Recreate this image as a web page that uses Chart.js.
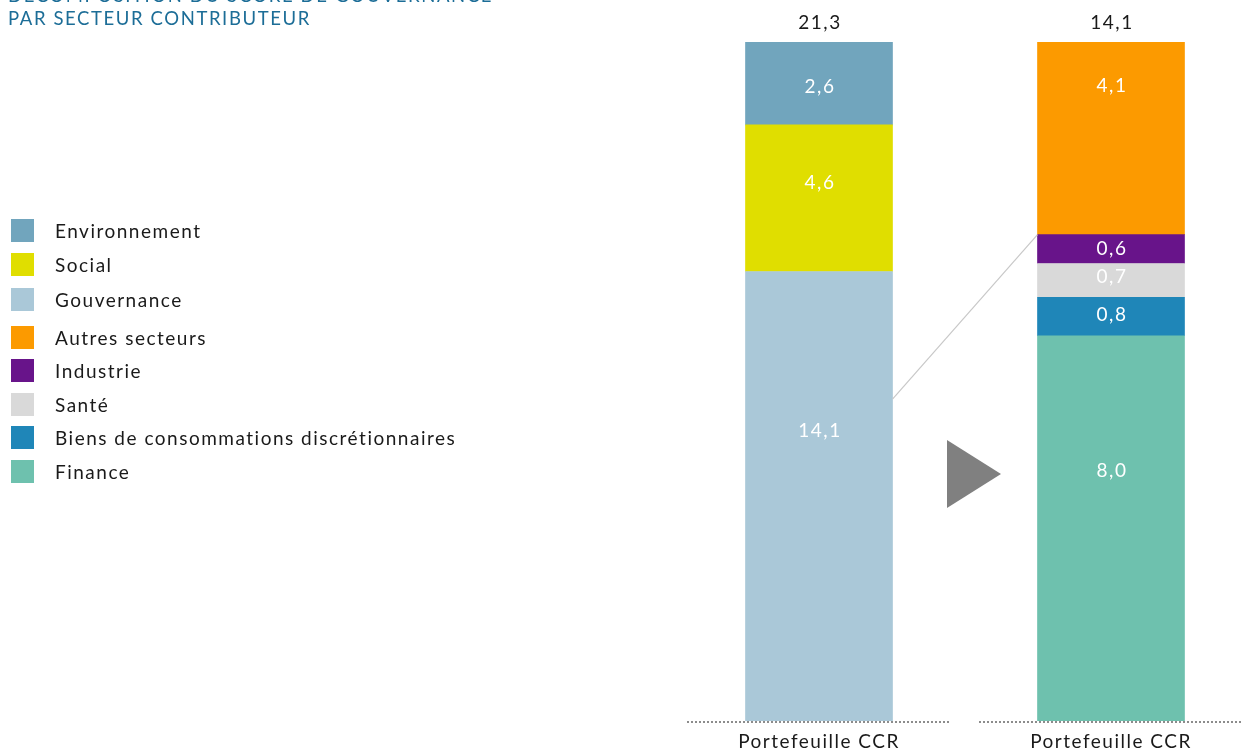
<!DOCTYPE html>
<html lang="fr">
<head>
<meta charset="utf-8">
<script src="https://cdn.jsdelivr.net/npm/chart.js@4.4.1/dist/chart.umd.min.js"></script>
<style>
  html, body { margin: 0; padding: 0; width: 1253px; height: 752px; overflow: hidden; background: #fff; }
  #wrap { position: relative; width: 1253px; height: 752px; overflow: hidden; }
  canvas { position: absolute; left: 0; top: 0; }
  .title { position: absolute; left: 8px; top: -16px; font-family: Lato, "Noto Sans", sans-serif; font-size: 18.5px; letter-spacing: 1.6px; line-height: 23px; color: #1c6d97; white-space: nowrap; }
  #legend { position: absolute; left: 11px; top: 0; font-family: Lato, "Noto Sans", sans-serif; font-size: 19px; letter-spacing: 1.5px; color: #1a1a1a; }
  .item { position: absolute; left: 0; white-space: nowrap; height: 23px; }
  .sw { position: absolute; left: 0; top: 0; width: 23px; height: 23px; }
  .lb { position: absolute; left: 44px; top: 0; line-height: 23px; }
</style>
</head>
<body>
<div id="wrap">
  <canvas id="c" width="1270" height="752"></canvas>
  <div class="title">DÉCOMPOSITION DU SCORE DE GOUVERNANCE<br>PAR SECTEUR CONTRIBUTEUR</div>
  <div id="legend"></div>
</div>
<script>
// ---- data ----
const categories = ['Portefeuille CCR', 'Portefeuille CCR'];
const totals = [21.3, 14.1];
const pillarLabels = ['Gouvernance', 'Social', 'Environnement'];
const pillarValues = [14.1, 4.6, 2.6];
const sectorLabels = ['Finance', 'Biens de consommations discrétionnaires', 'Santé', 'Industrie', 'Autres secteurs'];
const sectorValues = [8.0, 0.8, 0.7, 0.6, 4.1];
const legendOrder = ['Environnement', 'Social', 'Gouvernance', 'Autres secteurs', 'Industrie', 'Santé', 'Biens de consommations discrétionnaires', 'Finance'];

// ---- styles ----
const colors = {
  'Environnement': '#71a5bd',
  'Social': '#e0de00',
  'Gouvernance': '#aac8d8',
  'Autres secteurs': '#fc9a00',
  'Industrie': '#68148a',
  'Santé': '#d9d9d9',
  'Biens de consommations discrétionnaires': '#1f86b8',
  'Finance': '#6ec1ae'
};
// vertical nudge of in-bar labels (px from visible segment centre)
const labelNudge = {
  'Environnement': 3, 'Social': -15, 'Gouvernance': -65,
  'Autres secteurs': -52, 'Industrie': 0, 'Santé': -3,
  'Biens de consommations discrétionnaires': -2, 'Finance': -58
};
const legendTops = [219, 253, 288, 326, 359, 393, 426, 460];
const FONT = 'Lato, "Noto Sans", sans-serif';
const SPACING = '1.5px';

// legend (HTML)
const legendEl = document.getElementById('legend');
legendOrder.forEach((name, i) => {
  const it = document.createElement('div');
  it.className = 'item';
  it.style.top = legendTops[i] + 'px';
  const sw = document.createElement('div');
  sw.className = 'sw';
  sw.style.background = colors[name];
  const lb = document.createElement('div');
  lb.className = 'lb';
  lb.textContent = name;
  it.appendChild(sw); it.appendChild(lb);
  legendEl.appendChild(it);
});

const fmt = v => v.toFixed(1).replace('.', ',');

const datasets = [];
pillarLabels.forEach((name, i) => datasets.push({
  label: name, data: [pillarValues[i], null], backgroundColor: colors[name],
  yAxisID: 'y', stack: 's'
}));
sectorLabels.forEach((name, i) => datasets.push({
  label: name, data: [null, sectorValues[i]], backgroundColor: colors[name],
  yAxisID: 'y2', stack: 's'
}));

const spacingPlugin = {
  id: 'spacing',
  beforeDraw(chart) { chart.ctx.letterSpacing = SPACING; }
};

const decor = {
  id: 'decor',
  afterDatasetsDraw(chart) {
    const ctx = chart.ctx;
    const x = chart.scales.x, y = chart.scales.y, y2 = chart.scales.y2;
    const area = chart.chartArea;
    ctx.save();
    ctx.letterSpacing = SPACING;
    // dotted baselines per category
    ctx.strokeStyle = '#8c8c8c';
    ctx.lineWidth = 2;
    ctx.setLineDash([2, 2]);
    categories.forEach((c, i) => {
      const cx = x.getPixelForValue(i);
      ctx.beginPath();
      ctx.moveTo(cx - 132, area.bottom + 1);
      ctx.lineTo(cx + 132, area.bottom + 1);
      ctx.stroke();
    });
    ctx.setLineDash([]);

    // segment labels
    ctx.textAlign = 'center';
    ctx.textBaseline = 'middle';
    ctx.font = '19px ' + FONT;
    chart.data.datasets.forEach((ds, di) => {
      const meta = chart.getDatasetMeta(di);
      meta.data.forEach((bar, idx) => {
        const v = ds.data[idx];
        if (v == null) return;
        const top = Math.max(area.top, Math.min(bar.y, bar.base)), bot = Math.max(bar.y, bar.base);
        ctx.fillStyle = '#ffffff';
        ctx.fillText(fmt(v), bar.x + 1, (top + bot) / 2 + (labelNudge[ds.label] || 0));
      });
    });

    // totals
    ctx.fillStyle = '#1a1a1a';
    totals.forEach((t, i) => {
      ctx.fillText(fmt(t), x.getPixelForValue(i) + 1, area.top - 19);
    });

    // connector line: left bar at value of detailed sectors to right bar same value
    const detailed = sectorValues.slice(0, 4).reduce((a, b) => a + b, 0);
    const lbar = chart.getDatasetMeta(0).data[0];
    const rbar = chart.getDatasetMeta(pillarLabels.length).data[1];
    ctx.strokeStyle = '#c8c8c8';
    ctx.lineWidth = 1.2;
    ctx.beginPath();
    ctx.moveTo(lbar.x + lbar.width / 2, y.getPixelForValue(detailed));
    ctx.lineTo(rbar.x - rbar.width / 2, y2.getPixelForValue(detailed));
    ctx.stroke();

    // arrow triangle
    const mid = (x.getPixelForValue(0) + x.getPixelForValue(1)) / 2;
    const cy = area.top + 432;
    ctx.fillStyle = '#808080';
    ctx.beginPath();
    ctx.moveTo(mid - 18, cy - 34);
    ctx.lineTo(mid - 18, cy + 34);
    ctx.lineTo(mid + 36, cy);
    ctx.closePath();
    ctx.fill();
    ctx.restore();
  }
};

new Chart(document.getElementById('c'), {
  type: 'bar',
  data: { labels: categories, datasets },
  options: {
    responsive: false,
    animation: false,
    devicePixelRatio: 1,
    layout: { padding: { left: 673, right: 13, top: 42, bottom: 0 } },
    plugins: { legend: { display: false }, tooltip: { enabled: false } },
    datasets: { bar: { barThickness: 147, borderWidth: 0 } },
    scales: {
      x: {
        stacked: true,
        grid: { display: false, drawTicks: false },
        border: { display: false },
        ticks: { color: '#1a1a1a', font: { family: FONT, size: 19 }, padding: 9, maxRotation: 0 },
        afterFit(scale) { scale.height = 31; }
      },
      y: { stacked: true, display: false, min: 0, max: totals[0] },
      y2: { stacked: true, display: false, min: 0, max: totals[1] }
    }
  },
  plugins: [spacingPlugin, decor]
});
</script>
</body>
</html>
